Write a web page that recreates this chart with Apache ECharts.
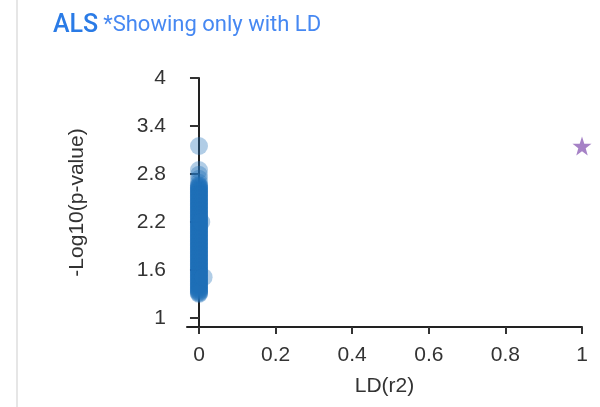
<!DOCTYPE html>
<html>
<head>
<meta charset="utf-8">
<script src="https://cdn.jsdelivr.net/npm/echarts@6/dist/echarts.min.js"></script>
<style>html,body{margin:0;padding:0;background:#fff;}#c{width:600px;height:407px;}</style>
</head>
<body>
<div id="c"></div>
<script>
const titleMain = 'ALS';
const titleSub = '*Showing only with LD';
const xTicks = [0, 0.2, 0.4, 0.6, 0.8, 1];
const yTicks = [1, 1.6, 2.2, 2.8, 3.4, 4];
const xName = 'LD(r2)';
const yName = '-Log10(p-value)';
// SNPs with LD: -log10 p values (r2 = 0 unless listed in snpXExtra)
const snpY = [3.15,2.85,2.79,2.74,2.69,2.66,2.65,2.64,2.63,2.62,2.61,2.6,2.59,2.58,2.57,2.56,2.55,2.54,2.53,2.52,2.51,2.5,2.49,2.48,2.47,2.46,2.45,2.44,2.43,2.42,2.41,2.4,2.39,2.38,2.37,2.36,2.35,2.34,2.33,2.32,2.31,2.3,2.29,2.28,2.27,2.26,2.25,2.24,2.23,2.22,2.21,2.2,2.19,2.18,2.17,2.16,2.15,2.14,2.13,2.12,2.11,2.1,2.09,2.08,2.07,2.06,2.05,2.04,2.03,2.02,2.01,2.0,1.99,1.98,1.97,1.96,1.95,1.94,1.93,1.92,1.91,1.9,1.89,1.88,1.87,1.86,1.85,1.84,1.83,1.82,1.81,1.8,1.79,1.78,1.77,1.76,1.75,1.74,1.73,1.72,1.71,1.7,1.69,1.68,1.67,1.66,1.65,1.64,1.63,1.62,1.61,1.6,1.59,1.58,1.57,1.56,1.55,1.54,1.53,1.52,1.51,1.5,1.49,1.48,1.47,1.46,1.45,1.44,1.43,1.42,1.41,1.4,1.39,1.38,1.37,1.36,1.35,1.34,1.33,1.32,1.31,1.3];
const snpXExtra = [0.012, 0.006];
const snpYExtra = [1.51, 2.2];
// lead SNP
const leadX = [1];
const leadY = [3.15];

const snpData = snpY.map(y => [0, y]).concat(snpXExtra.map((x, i) => [x, snpYExtra[i]]));

const chart = echarts.init(document.getElementById('c'));
const txt = '#333';
const font = 'Liberation Sans';
chart.setOption({
  animation: false,
  title: {
    left: 48, top: 8,
    text: '{a|' + titleMain + '} {b|' + titleSub + '}',
    textStyle: {
      fontWeight: 'normal',
      rich: {
        a: { fontFamily: 'Roboto', fontSize: 25, color: '#2a7be6', fontWeight: 500 },
        b: { fontFamily: 'Roboto', fontSize: 22, color: '#4688f2', fontWeight: 'normal' }
      }
    }
  },
  graphic: [{
    type: 'rect', left: 16, top: 0, shape: { width: 2, height: 407 },
    style: { fill: '#e6e6e6' }, silent: true
  }],
  grid: { left: 187, right: 18, top: 78, bottom: 80, containLabel: false },
  xAxis: {
    type: 'value', min: -0.0313, max: 1,
    splitLine: { show: false },
    axisLine: { show: true, lineStyle: { color: '#222', width: 2 } },
    axisTick: { show: true, customValues: xTicks, length: 7, lineStyle: { color: txt, width: 2 } },
    axisLabel: { customValues: xTicks, color: txt, fontSize: 21, fontFamily: font, margin: 18,
      formatter: v => String(v) },
    name: xName, nameLocation: 'middle', nameGap: 49,
    nameTextStyle: { color: txt, fontSize: 21, fontFamily: font }
  },
  yAxis: {
    type: 'value', min: 0.8875, max: 4,
    splitLine: { show: false },
    axisLine: { show: true, lineStyle: { color: '#222', width: 2 } },
    axisTick: { show: true, customValues: yTicks, length: 9, lineStyle: { color: txt, width: 2 } },
    axisLabel: { customValues: yTicks, color: txt, fontSize: 21, fontFamily: font, margin: 21,
      formatter: v => String(v) },
    name: yName, nameLocation: 'middle', nameGap: 99, nameRotate: 90,
    nameTextStyle: { color: txt, fontSize: 21, fontFamily: font }
  },
  series: [{
    type: 'scatter',
    data: snpData,
    symbol: 'circle', symbolSize: 18,
    itemStyle: { color: '#1f6fb8', opacity: 0.35 }
  }, {
    type: 'scatter',
    data: leadX.map((x, i) => [x, leadY[i]]),
    symbol: 'path://M50,0 L61.8,35.1 L98.9,35.5 L69.1,57.6 L79.4,93.1 L50,72 L20.6,93.1 L30.9,57.6 L1.1,35.5 L38.2,35.1 Z',
    symbolSize: 19,
    itemStyle: { color: '#9063b8' }
  }]
});
</script>
</body>
</html>
